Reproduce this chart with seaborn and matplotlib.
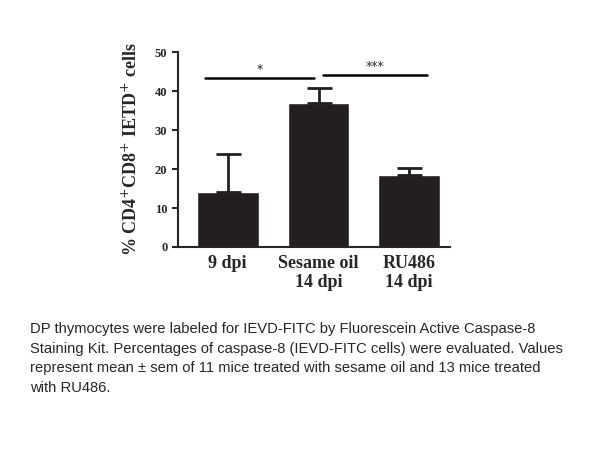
import matplotlib
matplotlib.use("Agg")
import matplotlib.pyplot as plt
import seaborn as sns
import pandas as pd

categories = ["9 dpi", "Sesame oil\n14 dpi", "RU486\n14 dpi"]
means = [14, 37, 18.5]
sems = [9.8, 3.8, 1.8]
yticks = [0, 10, 20, 30, 40, 50]

sns.set_style("ticks")
fig = plt.figure(figsize=(6.05, 4.54), dpi=100)
ax = fig.add_axes([0.294, 0.456, 0.45, 0.429])
df = pd.DataFrame({"cat": categories, "val": means})
sns.barplot(data=df, x="cat", y="val", color="#231f20", saturation=1, width=0.68, ax=ax, errorbar=None)
ax.errorbar(range(3), means, yerr=[[0]*3, sems], fmt="none", ecolor="#231f20", elinewidth=2, capsize=9, capthick=2)
ax.set_ylim(0, 50)
ax.set_xlim(-0.55, 2.45)
ax.set_yticks(yticks)
ax.set_yticklabels([str(t) for t in yticks], fontfamily="Liberation Serif", fontsize=9, fontweight="bold")
ax.set_xticks(range(3))
ax.set_xticklabels(categories, fontfamily="Liberation Serif", fontsize=13, fontweight="bold", linespacing=1.1)
ax.tick_params(axis="x", length=0, pad=6)
ax.tick_params(axis="y", length=4, width=1.5)
ax.set_xlabel("")
ax.set_ylabel("% CD4$^{+}$CD8$^{+}$ IETD$^{+}$ cells", fontfamily="Liberation Serif", fontsize=13, fontweight="bold", labelpad=10)
for s in ["top", "right"]:
    ax.spines[s].set_visible(False)
for s in ["left", "bottom"]:
    ax.spines[s].set_linewidth(1.5)
ax.plot([-0.25, 0.95], [43.5, 43.5], color="black", lw=1.8, clip_on=False)
ax.text(0.35, 44, "*", ha="center", va="bottom", fontsize=9)
ax.plot([1.05, 2.2], [44.2, 44.2], color="black", lw=1.8, clip_on=False)
ax.text(1.62, 44.6, "***", ha="center", va="bottom", fontsize=9)

caption = ("DP thymocytes were labeled for IEVD-FITC by Fluorescein Active Caspase-8\n"
           "Staining Kit. Percentages of caspase-8 (IEVD-FITC cells) were evaluated. Values\n"
           "represent mean \u00b1 sem of 11 mice treated with sesame oil and 13 mice treated\n"
           "with RU486.")
fig.text(30/605, 1-322/454, caption, ha="left", va="top", fontfamily="Liberation Sans", fontsize=10.6, linespacing=1.5)
fig.savefig("out.png", dpi=100)
